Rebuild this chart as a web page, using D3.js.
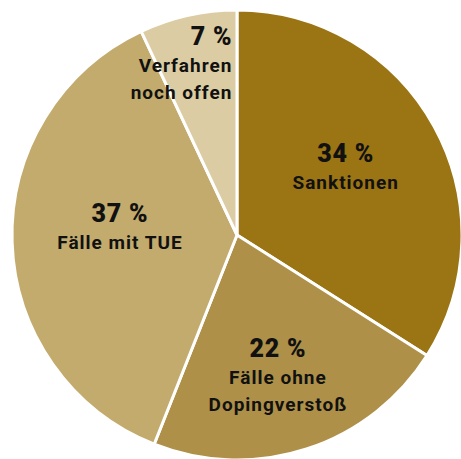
<!DOCTYPE html>
<html><head><meta charset="utf-8">
<script src="https://cdn.jsdelivr.net/npm/d3@7"></script>
<style>html,body{margin:0;padding:0;background:#fff;overflow:hidden}svg{display:block}</style>
</head><body>
<svg id="chart" width="461" height="459"></svg>
<script>
const categories = ["Sanktionen", "Fälle ohne Dopingverstoß", "Fälle mit TUE", "Verfahren noch offen"];
const values = [34, 22, 37, 7];
const labelLines = [["Sanktionen"], ["Fälle ohne", "Dopingverstoß"], ["Fälle mit TUE"], ["Verfahren", "noch offen"]];
const colors = ["#9b7414", "#ae9048", "#c3ab6e", "#dccca3"];

const svg = d3.select("#chart");
const cx = 237, cy = 235, R = 225;
const g = svg.append("g").attr("transform", `translate(${cx},${cy})`);

const pie = d3.pie().sort(null).value(d => d)(values);
const arc = d3.arc().innerRadius(0).outerRadius(R);

g.selectAll("path").data(pie).join("path")
  .attr("d", arc)
  .attr("fill", (d, i) => colors[i])
  .attr("stroke", "#fff")
  .attr("stroke-width", 3)
  .attr("stroke-linejoin", "round");

// label placement (layout only)
const labelR = [124, 155, 117, 168];
const angleAdj = [0, 2.7, 1.8, 0];
const anchors = ["middle", "middle", "middle", "end"];
const xShift = [0, 0, 0, 32];
const pctDy = [-13, -28, -13, -26];

pie.forEach((d, i) => {
  const a = (d.startAngle + d.endAngle) / 2 + angleAdj[i] * Math.PI / 180;
  const x = Math.sin(a) * labelR[i] + xShift[i];
  const y = -Math.cos(a) * labelR[i];
  const t = g.append("g").attr("transform", `translate(${x},${y})`);
  t.append("text")
    .attr("text-anchor", anchors[i])
    .attr("y", pctDy[i])
    .attr("font-family", "Roboto, 'DejaVu Sans', sans-serif")
    .attr("font-weight", 900)
    .attr("font-size", 25)
    .attr("letter-spacing", 0.8)
    .attr("fill", "#111")
    .text(values[i] + " %");
  labelLines[i].forEach((line, j) => {
    t.append("text")
      .attr("text-anchor", anchors[i])
      .attr("y", pctDy[i] + 27 + j * 27)
      .attr("font-family", "Roboto, 'DejaVu Sans', sans-serif")
      .attr("font-weight", 700)
      .attr("font-size", 19)
      .attr("letter-spacing", 1)
      .attr("fill", "#111")
      .text(line);
  });
});
</script>
</body></html>
